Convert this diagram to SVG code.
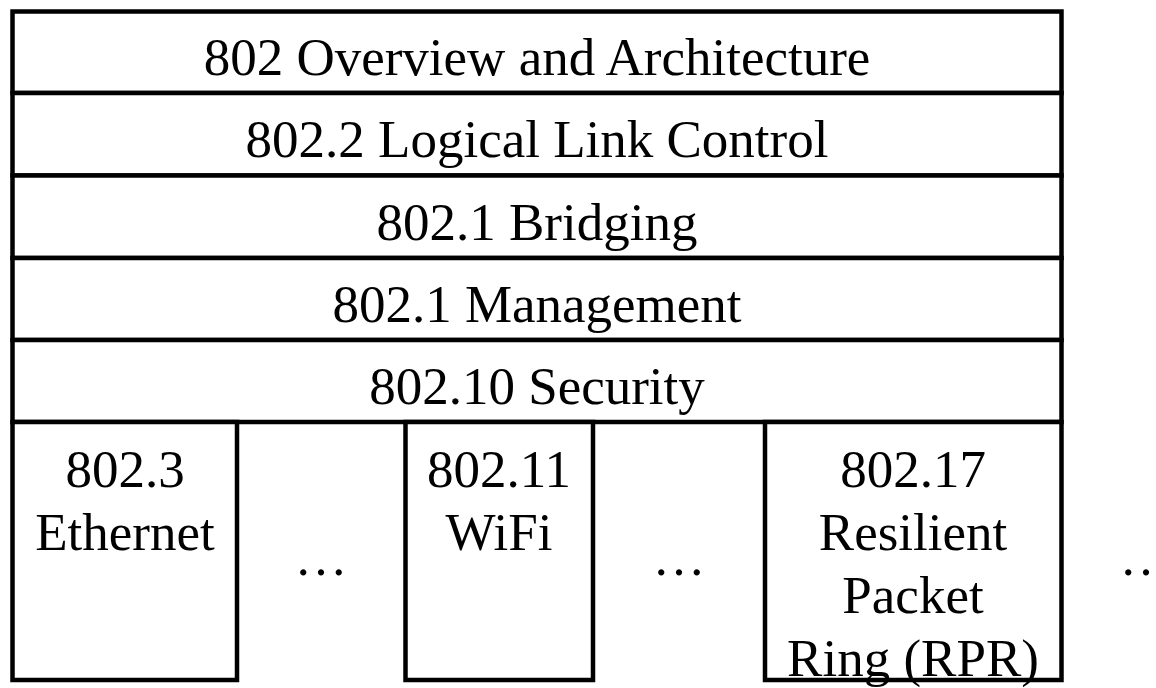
<svg xmlns="http://www.w3.org/2000/svg" width="1156" height="688" viewBox="0 0 1156 688">
<style>
.box{fill:#fff;stroke:#000;stroke-width:4.5}
.t{font-family:"Liberation Serif","Times New Roman",serif;font-size:53px;fill:#000;text-anchor:middle}
</style>
<rect width="1156" height="688" fill="#fff"/>
<g id="row1"><rect class="box" x="12.5" y="11.5" width="1049" height="81.5"/><text class="t" x="537" y="75">802 Overview and Architecture</text></g>
<g id="row2"><rect class="box" x="12.5" y="93" width="1049" height="82.5"/><text class="t" x="537" y="157">802.2 Logical Link Control</text></g>
<g id="row3"><rect class="box" x="12.5" y="175.5" width="1049" height="82.5"/><text class="t" x="537" y="240">802.1 Bridging</text></g>
<g id="row4"><rect class="box" x="12.5" y="258" width="1049" height="82"/><text class="t" x="537" y="322">802.1 Management</text></g>
<g id="row5"><rect class="box" x="12.5" y="340" width="1049" height="82"/><text class="t" x="537" y="404">802.10 Security</text></g>
<g id="ethernet"><rect class="box" x="12.5" y="422" width="224.5" height="258"/><text class="t" x="125" y="487">802.3</text><text class="t" x="125" y="550">Ethernet</text></g>
<g id="dots1"><text class="t" x="321" y="575">…</text></g>
<g id="wifi"><rect class="box" x="405.5" y="422" width="187.5" height="258"/><text class="t" x="499" y="487">802.11</text><text class="t" x="499" y="550">WiFi</text></g>
<g id="dots2"><text class="t" x="679" y="575">…</text></g>
<g id="rpr"><rect class="box" x="765" y="422" width="296.5" height="258"/><text class="t" x="913" y="487">802.17</text><text class="t" x="913" y="550">Resilient</text><text class="t" x="913" y="613">Packet</text><text class="t" x="913" y="676">Ring (RPR)</text></g>
<g id="dots3"><text class="t" x="1146" y="575">…</text></g>
<g id="connectors"></g>
</svg>
